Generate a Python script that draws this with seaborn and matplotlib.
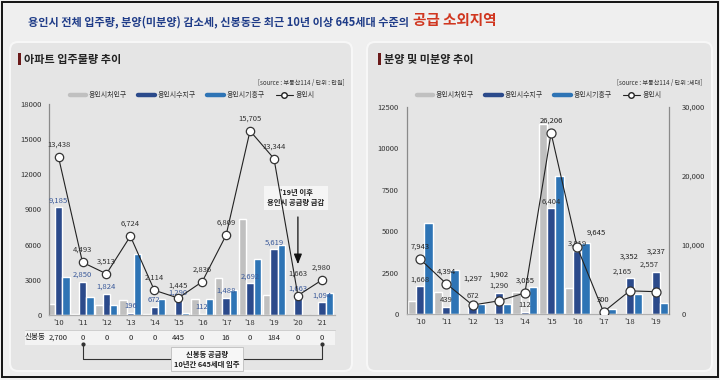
import numpy as np
import pandas as pd
import matplotlib
matplotlib.use('Agg')
import matplotlib.pyplot as plt
import seaborn as sns
from matplotlib.patches import FancyBboxPatch, Rectangle
from matplotlib.lines import Line2D
from matplotlib.transforms import blended_transform_factory

sns.set_theme(style='white')
plt.rcParams['font.family'] = ['Noto Sans CJK KR', 'DejaVu Sans']
plt.rcParams['axes.unicode_minus'] = False

# ---------------- data ----------------
districts = ['용인시처인구', '용인시수지구', '용인시기흥구']
city = '용인시'

years1 = ["'10", "'11", "'12", "'13", "'14", "'15", "'16", "'17", "'18", "'19", "'20", "'21"]
cheoin1 = [970, 73, 830, 1300, 100, 0, 1380, 3178, 8229, 1725, 0, 0]
suji1 = [9185, 2850, 1824, 196, 672, 1290, 112, 1488, 2692, 5619, 1663, 1094]
giheung1 = [3283, 1570, 859, 5228, 1342, 155, 1344, 2143, 4784, 6000, 0, 1886]
total1 = [13438, 4493, 3513, 6724, 2114, 1445, 2836, 6809, 15705, 13344, 1663, 2980]
sinbong = [2700, 0, 0, 0, 0, 445, 0, 16, 0, 184, 0, 0]

years2 = ["'10", "'11", "'12", "'13", "'14", "'15", "'16", "'17", "'18", "'19"]
cheoin2 = [783, 1305, 0, 0, 1338, 11469, 1546, 0, 0, 0]
suji2 = [1668, 439, 672, 1290, 112, 6404, 3819, 0, 2165, 2557]
giheung2 = [5492, 2650, 625, 612, 1605, 8333, 4280, 300, 1187, 680]
total2 = [7943, 4394, 1297, 1902, 3055, 26206, 9645, 300, 3352, 3237]

title_main = '용인시 전체 입주량, 분양(미분양) 감소세, 신봉동은 최근 10년 이상 645세대 수준의'
title_red = '공급 소외지역'
panel1_title = '아파트 입주물량 추이'
panel2_title = '분양 및 미분양 추이'
source1 = '[source : 부동산114 / 단위 : 만원]'
source2 = '[source : 부동산114 / 단위 :세대]'
row_label = '신봉동'
bracket_text = '신봉동 공급량\n10년간 645세대 입주'
note_text = "'19년 이후\n용인시 공급량 급감"

# ---------------- style ----------------
colors = ['#c0c0c0', '#2b4a8b', '#2e74b5']
palette = dict(zip(districts, colors))
W, H = 720, 380
fig = plt.figure(figsize=(W / 100, H / 100), dpi=100)
fig.patch.set_facecolor('#efefef')

bg = fig.add_axes([0, 0, 1, 1])
bg.set_xlim(0, W)
bg.set_ylim(H, 0)
bg.axis('off')
bg.set_autoscale_on(False)
bg.set_zorder(0)

# frame & panels
bg.add_patch(Rectangle((2, 2), W - 4, H - 5, facecolor='none', edgecolor='#111111', lw=1.4))
for x0, x1 in [(10, 352), (367, 712)]:
    bg.add_patch(FancyBboxPatch((x0, 42), x1 - x0, 329, boxstyle='round,pad=0,rounding_size=8',
                                facecolor='#e5e5e5', edgecolor='#f7f7f7', lw=1.5))

# title
bg.text(409, 25, title_main, ha='right', va='baseline', fontsize=8.0, fontweight='bold', color='#1f3c88')
bg.text(413, 25, title_red, ha='left', va='baseline', fontsize=10.5, fontweight='bold', color='#d0361f')

# panel titles
for x0, t in [(18, panel1_title), (378, panel2_title)]:
    bg.add_patch(Rectangle((x0, 53), 3.2, 12, facecolor='#6b1a1a', edgecolor='none'))
    bg.text(x0 + 6, 59.5, t, ha='left', va='center', fontsize=8, fontweight='bold', color='#222222')
bg.text(345, 83, source1, ha='right', va='center', fontsize=4.4, color='#333333')
bg.text(702, 83, source2, ha='right', va='center', fontsize=4.4, color='#333333')


def legend_for(ax, cx):
    handles = [Line2D([], [], color=c, lw=3.2) for c in colors]
    handles.append(Line2D([], [], color='#222222', lw=0.8, marker='o', markersize=4,
                          markerfacecolor='white', markeredgecolor='#222222'))
    leg = ax.legend(handles, districts + [city], loc='center', ncol=4,
                    bbox_to_anchor=(cx / W, 1 - 95 / H), bbox_transform=fig.transFigure,
                    frameon=False, fontsize=5, handlelength=2.4, handletextpad=0.4,
                    columnspacing=1.6)
    for t in leg.get_texts():
        t.set_color('#333333')


def style_axes(ax):
    ax.set_facecolor('none')
    ax.tick_params(length=0, labelsize=5.5, colors='#333333')
    ax.set_xlabel('')
    ax.set_ylabel('')
    for s in ['top', 'right']:
        ax.spines[s].set_visible(False)
    ax.spines['left'].set_color('#8a8a8a')
    ax.spines['bottom'].set_color('#b0b0b0')
    ax.spines['left'].set_linewidth(0.9)
    ax.spines['bottom'].set_linewidth(0.9)


# ---------------- left chart ----------------
ax1 = fig.add_axes([49 / W, 1 - 315 / H, (335 - 49) / W, (315 - 104) / H])
ax1.set_zorder(2)
df1 = pd.DataFrame({'year': years1 * 3,
                    'district': sum([[d] * len(years1) for d in districts], []),
                    'value': cheoin1 + suji1 + giheung1})
sns.barplot(data=df1, x='year', y='value', hue='district', order=years1, hue_order=districts,
            palette=palette, saturation=1, width=0.92, gap=0, errorbar=None, legend=False, ax=ax1)
x1 = np.arange(len(years1))
ax1.plot(x1, total1, color='#222222', lw=0.8, marker='o', markersize=6,
         markerfacecolor='white', markeredgecolor='#333333', markeredgewidth=0.9, zorder=5)
style_axes(ax1)
ax1.set_ylim(0, 18000)
ax1.set_yticks(range(0, 18001, 3000))
ax1.set_xlim(-0.4, 11.55)
ax1.tick_params(axis='y', pad=5)
ax1.tick_params(axis='x', pad=3)
line_dy1 = [6, 6, 6, 6, 6, 6, 6, 6, 6, 6, 13, 6]
for i, v in enumerate(total1):
    ax1.annotate(f'{v:,}', (i, v), xytext=(0, line_dy1[i]), textcoords='offset points',
                 ha='center', va='bottom', fontsize=5.5, color='#333333', zorder=6)
for i, v in enumerate(suji1):
    ax1.annotate(f'{v:,}', (i, v), xytext=(0, 2), textcoords='offset points',
                 ha='center', va='bottom', fontsize=5.5, color='#3b5a9a', zorder=4)
legend_for(ax1, 192)

# table row below left chart
blend1 = blended_transform_factory(ax1.transData, bg.transData)
bg.add_patch(Rectangle((25, 330), 310, 15, facecolor='#f3f3f3', edgecolor='none'))
bg.add_line(Line2D([25, 335], [330, 330], color='#c8c8c8', lw=0.6))
bg.text(35, 337.5, row_label, ha='center', va='center', fontsize=5.5, color='#222222')
for i, v in enumerate(sinbong):
    bg.text(i, 337.5, f'{v:,}', transform=blend1, ha='center', va='center', fontsize=5.5,
            color='#222222')

# bracket
bg.add_line(Line2D([1, 1, 11, 11], [344, 359, 359, 344], transform=blend1, color='#333333', lw=0.8))
bg.add_line(Line2D([1, 11], [344, 344], transform=blend1, ls='none', marker='o', markersize=2,
                   color='#333333'))
bg.text(207, 359, bracket_text, ha='center', va='center', fontsize=5.3, fontweight='bold',
        color='#222222', linespacing=1.5,
        bbox=dict(boxstyle='square,pad=0.45', facecolor='#f7f7f7', edgecolor='#bdbdbd', lw=0.6))

# note with arrow
bg.text(296, 198, note_text, ha='center', va='center', fontsize=5.3, fontweight='bold',
        color='#222222', linespacing=1.5, zorder=10,
        bbox=dict(boxstyle='square,pad=0.5', facecolor='#f5f5f5', edgecolor='none'))
ax1.annotate('', xy=(10, 4100), xytext=(10, 8600),
             arrowprops=dict(arrowstyle='-|>,head_length=0.5,head_width=0.2', color='#111111', lw=0.9),
             zorder=7)

# ---------------- right chart ----------------
ax2 = fig.add_axes([407 / W, 1 - 314 / H, (669 - 407) / W, (314 - 107) / H])
ax2.set_zorder(2)
df2 = pd.DataFrame({'year': years2 * 3,
                    'district': sum([[d] * len(years2) for d in districts], []),
                    'value': cheoin2 + suji2 + giheung2})
sns.barplot(data=df2, x='year', y='value', hue='district', order=years2, hue_order=districts,
            palette=palette, saturation=1, width=0.96, gap=0, errorbar=None, legend=False, ax=ax2)
style_axes(ax2)
ax2.set_ylim(0, 12500)
ax2.set_yticks(range(0, 12501, 2500))
ax2.set_xlim(-0.5, 9.5)
ax2.tick_params(axis='y', pad=6)
ax2.tick_params(axis='x', pad=3)

ax2r = ax2.twinx()
x2 = np.arange(len(years2))
ax2r.plot(x2, total2, color='#222222', lw=0.8, marker='o', markersize=6.5,
          markerfacecolor='white', markeredgecolor='#333333', markeredgewidth=0.9, zorder=5)
ax2r.set_ylim(0, 30000)
ax2r.set_yticks([0, 10000, 20000, 30000])
ax2r.set_yticklabels(['0', '10,000', '20,000', '30,000'])
ax2r.set_facecolor('none')
ax2r.tick_params(length=0, labelsize=5.5, colors='#333333', pad=9)
for s in ['top', 'left', 'bottom']:
    ax2r.spines[s].set_visible(False)
ax2r.spines['right'].set_color('#8a8a8a')
ax2r.spines['right'].set_linewidth(0.9)
ax2r.set_ylabel('')
line_dx2 = [0, 0, 0, 0, 0, 0, 14, 0, 0, 0]
line_dy2 = [6, 6, 16, 16, 6, 6, 8, 6, 22, 26]
for i, v in enumerate(total2):
    ax2r.annotate(f'{v:,}', (i, v), xytext=(line_dx2[i], line_dy2[i]), textcoords='offset points',
                  ha='center', va='bottom', fontsize=5.5, color='#222222', zorder=6)
bar_dx2 = [0, 0, 0, 0, 0, 0, 0, 0, -5, -5]
for i, v in enumerate(suji2):
    if v > 0:
        ax2.annotate(f'{v:,}', (i, v), xytext=(bar_dx2[i], 2), textcoords='offset points',
                     ha='center', va='bottom', fontsize=5.5, color='#333333', zorder=4)
legend_for(ax2r, 539)

fig.savefig('out.png', dpi=100, facecolor=fig.get_facecolor())
